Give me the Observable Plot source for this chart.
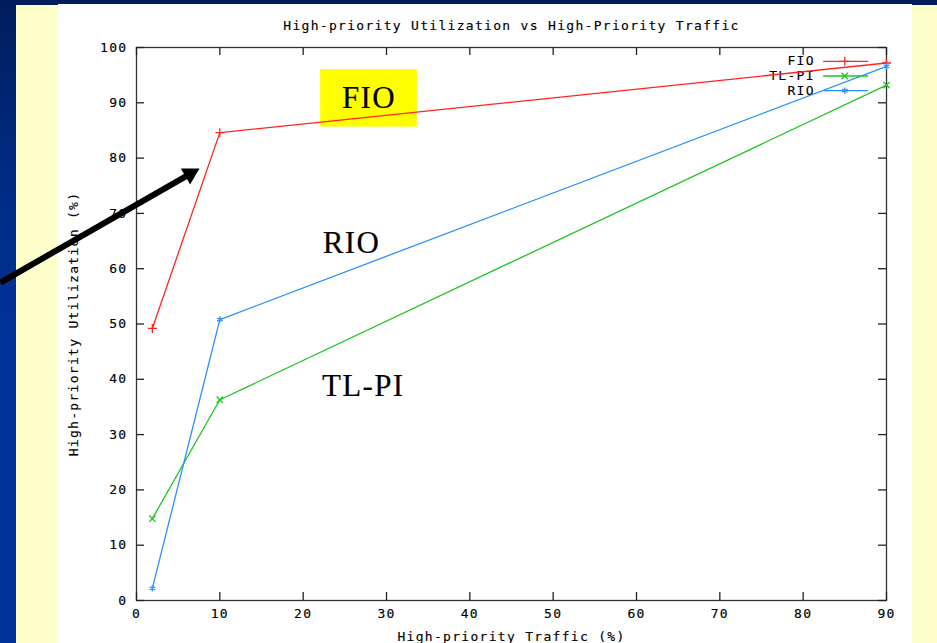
<!DOCTYPE html>
<html>
<head>
<meta charset="utf-8">
<script src="https://cdn.jsdelivr.net/npm/d3@7"></script>
<script src="https://cdn.jsdelivr.net/npm/@observablehq/plot@0.6"></script>
<style>
  html, body { margin: 0; padding: 0; }
  body { width: 937px; height: 643px; overflow: hidden; position: relative;
         background: linear-gradient(to bottom, #001d5a 0%, #002a80 25%, #003399 55%, #003399 100%); }
  #yellow { position: absolute; left: 16px; top: 5px; right: 0; bottom: 0; background: #ffffcc; }
  #white { position: absolute; left: 58px; top: 4px; width: 854px; bottom: 0; background: #ffffff; }
  #chart { position: absolute; left: 0; top: 0; }
  #chart svg { overflow: visible; }
</style>
</head>
<body>
<div id="yellow"></div>
<div id="white"></div>
<div id="chart"></div>
<script>
// ---- data ----
const seriesNames = ["FIO", "TL-PI", "RIO"];
const traffic = [1.9, 10, 90];
const fio  = [49.2, 84.6, 97.2];
const tlpi = [14.8, 36.3, 93.2];
const rio  = [2.2, 50.8, 96.6];
const xTicks = [0, 10, 20, 30, 40, 50, 60, 70, 80, 90];
const yTicks = [0, 10, 20, 30, 40, 50, 60, 70, 80, 90, 100];
const titleText = "High-priority Utilization vs High-Priority Traffic";
const xLabel = "High-priority Traffic (%)";
const yLabel = "High-priority Utilization (%)";
const annoLabels = ["FIO", "RIO", "TL-PI"];

// ---- build table ----
const seriesValues = [fio, tlpi, rio];
const rows = [];
seriesNames.forEach((name, i) => {
  traffic.forEach((t, j) => rows.push({series: name, x: t, y: seriesValues[i][j]}));
});

// ---- styling / layout ----
const colors = ["#ff2424", "#22c322", "#2b8fff"];
const symbols = ["plus", "times", "asterisk"];
const monoFont = "DejaVu Sans Mono";
const serifFont = "Liberation Serif";

// annotation placement (data coords)
const annoPos = [{x: 27.9, y: 90.9}, {x: 25.8, y: 64.6}, {x: 27.2, y: 38.7}];
const annos = annoLabels.map((t, i) => ({text: t, x: annoPos[i].x, y: annoPos[i].y}));
const fioBox = [{x1: 22.1, x2: 33.7, y1: 85.6, y2: 96.0}];
// pointer arrow: shaft + filled head
const arrowShaft = [{x1: -16.32, y1: 57.5, x2: 6.6, y2: 77.3}];
const arrowHead = [{x: 6.44, y: 77.16}];

// legend layout (data coords)
const legend = seriesNames.map((name, i) => ({
  series: name, tx: 81.4, x1: 82.4, x2: 87.8, xm: 85.0, y: 97.5 - 2.65 * i
}));

const plot = Plot.plot({
  width: 937,
  height: 643,
  marginLeft: 136,
  marginRight: 51,
  marginTop: 47,
  marginBottom: 43,
  style: {background: "transparent", fontFamily: monoFont, fontSize: "13px", color: "#000"},
  x: {domain: [0, 90]},
  y: {domain: [0, 100]},
  color: {domain: seriesNames, range: colors},
  symbol: {domain: seriesNames, range: symbols},
  marks: [
    Plot.frame({stroke: "#333", strokeWidth: 1.3}),
    Plot.tickX(xTicks, {x: d => d, insetTop: 545, stroke: "#222", strokeWidth: 1.3}),
    Plot.tickX(xTicks, {x: d => d, insetBottom: 545, stroke: "#222", strokeWidth: 1.3}),
    Plot.tickY(yTicks, {y: d => d, insetRight: 742, stroke: "#222", strokeWidth: 1.3}),
    Plot.tickY(yTicks, {y: d => d, insetLeft: 742, stroke: "#222", strokeWidth: 1.3}),
    Plot.axisX({ticks: xTicks, tickSize: 0, tickPadding: 8, label: null, tickFormat: d => String(d)}),
    Plot.axisY({ticks: yTicks, tickSize: 0, tickPadding: 9, label: null, tickFormat: d => String(d)}),
    Plot.text([titleText], {text: d => d, frameAnchor: "top", dy: -22, textAnchor: "middle", lineAnchor: "middle"}),
    Plot.text([xLabel], {text: d => d, frameAnchor: "bottom", dy: 36, textAnchor: "middle", lineAnchor: "middle"}),
    Plot.text([yLabel], {text: d => d, frameAnchor: "left", dx: -63, rotate: -90, textAnchor: "middle", lineAnchor: "middle"}),
    // annotations behind data
    Plot.rect(fioBox, {x1: "x1", x2: "x2", y1: "y1", y2: "y2", fill: "#ffff00"}),
    // legend text
    Plot.text(legend, {x: "tx", y: "y", text: "series", textAnchor: "end"}),
    // data
    Plot.line(rows, {x: "x", y: "y", z: "series", stroke: "series", strokeWidth: 1.3}),
    Plot.dot(rows, {x: "x", y: "y", stroke: "series", symbol: "series", r: 3.0, strokeWidth: 1.3}),
    // legend samples
    Plot.link(legend, {x1: "x1", x2: "x2", y1: "y", y2: "y", stroke: "series", strokeWidth: 1.3}),
    Plot.dot(legend, {x: "xm", y: "y", stroke: "series", symbol: "series", r: 3.0, strokeWidth: 1.3}),
    // annotation texts
    Plot.text(annos, {x: "x", y: "y", text: "text", fontFamily: serifFont, fontSize: 31, fill: "#000", ariaLabel: "anno"}),
    Plot.link(arrowShaft, {x1: "x1", y1: "y1", x2: "x2", y2: "y2", stroke: "#000", strokeWidth: 6}),
    Plot.dot(arrowHead, {x: "x", y: "y", symbol: "triangle", r: 6.9, fill: "#000", stroke: "none", rotate: 60.2})
  ]
});

document.getElementById("chart").appendChild(plot);
// gnuplot-like wide, slightly heavier monospaced texts
d3.select(plot).selectAll("text")
  .style("letter-spacing", "1.3px")
  .style("stroke", "#000")
  .style("stroke-width", "0.15px");
d3.select(plot).selectAll('g[aria-label="anno"] text')
  .style("letter-spacing", "0px")
  .style("stroke", "none");
</script>
</body>
</html>
